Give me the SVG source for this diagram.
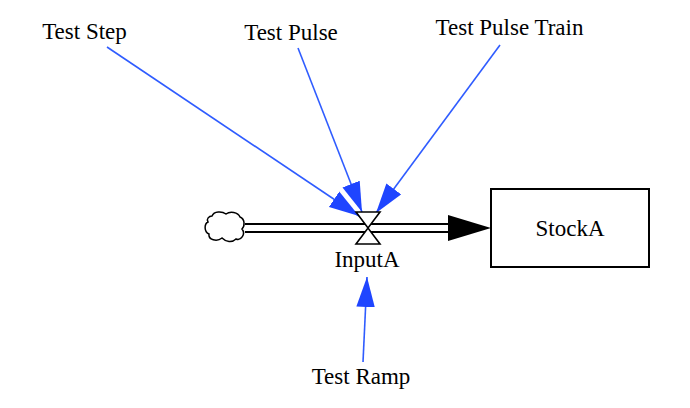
<svg xmlns="http://www.w3.org/2000/svg" width="690" height="408" viewBox="0 0 690 408">
<defs>
<style>
text{font-family:"Liberation Serif","Times New Roman",serif;font-size:23px;fill:#000;text-anchor:middle}
.link{stroke:#2f5cff;stroke-width:1.6;fill:none;marker-end:url(#ah)}
.blk{stroke:#000;stroke-width:2;fill:none}
</style>
<marker id="ah" markerUnits="userSpaceOnUse" markerWidth="30" markerHeight="20" viewBox="0 0 26 16" refX="26" refY="8" orient="auto">
<path d="M0,0 L26,8 L0,16 Z" fill="#1f45ff"/>
</marker>
</defs>
<rect width="690" height="408" fill="#fff"/>
<g id="connectors">
<line class="link" x1="107" y1="47" x2="359" y2="216"/>
<line class="link" x1="298" y1="48" x2="362" y2="212"/>
<line class="link" x1="500" y1="45" x2="376" y2="213"/>
<line class="link" x1="363" y1="362" x2="367" y2="277"/>
</g>
<g id="flow-InputA">
<line class="blk" x1="245" y1="224" x2="452" y2="224"/>
<line class="blk" x1="245" y1="232" x2="452" y2="232"/>
<polygon points="448,215 491,228 448,241" fill="#000"/>
<path d="M356,212 H380 L368,228 Z M356,244 H380 L368,228 Z" fill="#fff" stroke="#000" stroke-width="1.6"/>
<text x="367" y="267">InputA</text>
</g>
<g id="cloud">
<path d="M212,216 C214,211 222,211 226,214 C230,211 238,212 240,217 C245,219 245,226 242,229 C246,234 241,241 236,239 C232,243 226,242 222,238 C217,242 208,240 209,234 C204,232 204,224 208,222 C206,219 209,216 212,216 Z" fill="#fff" stroke="#000" stroke-width="1.5"/>
</g>
<g id="StockA">
<rect x="491" y="189" width="158" height="78" fill="#fff" stroke="#000" stroke-width="2"/>
<text x="570" y="236">StockA</text>
</g>
<g id="TestStep"><text x="84.5" y="39">Test Step</text></g>
<g id="TestPulse"><text x="291" y="40">Test Pulse</text></g>
<g id="TestPulseTrain"><text x="509.5" y="35">Test Pulse Train</text></g>
<g id="TestRamp"><text x="361" y="384">Test Ramp</text></g>
</svg>
